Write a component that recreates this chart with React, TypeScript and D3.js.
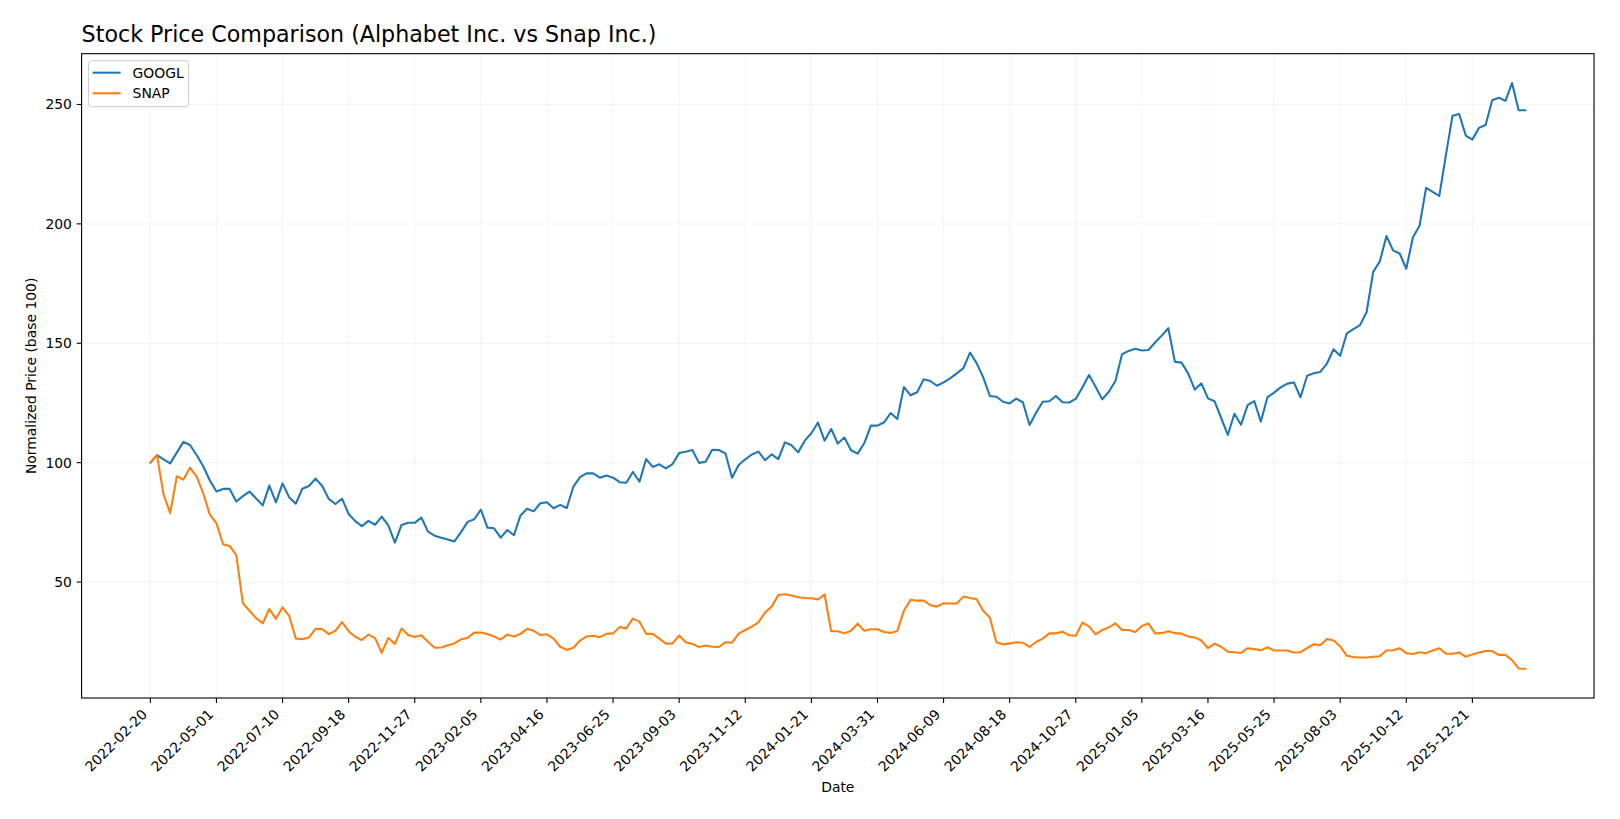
import * as d3 from 'd3';

const START_DATE = '2022-02-20';

// weekly closes, normalized to 100 at the first week
const GOOGL = [
  100, 103.1, 101.4, 99.7, 104.2, 108.7, 107.4, 103.2, 98.5, 92.5,
  87.9, 89, 89, 83.7, 86, 87.9, 85, 82.1, 90.4, 83.4,
  91.3, 85.5, 82.8, 89.1, 90.2, 93.3, 90.2, 84.8, 82.7, 84.9,
  78.5, 75.5, 73.4, 75.6, 74, 77.4, 73.7, 66.5, 73.9, 74.8,
  74.8, 77, 71.1, 69.4, 68.5, 67.8, 67, 70.9, 75.2, 76.3,
  80.3, 72.8, 72.5, 68.6, 71.8, 69.6, 77.9, 80.7, 79.6, 83,
  83.4, 80.9, 82.3, 81, 90, 93.9, 95.5, 95.5, 93.7, 94.6,
  93.7, 91.8, 91.6, 96.1, 92, 101.5, 98.2, 99.3, 97.6, 99.4,
  104, 104.6, 105.3, 99.9, 100.4, 105.4, 105.3, 103.9, 93.7, 99,
  101.4, 103.4, 104.6, 101, 103.5, 101.5, 108.5, 107.3, 104.3, 109.2,
  112.3, 116.8, 109.2, 114.1, 108, 110.5, 105.2, 103.8, 108.1, 115.5,
  115.5, 116.9, 120.8, 118.3, 131.7, 128.2, 129.5, 134.9, 134.2, 132.2,
  133.6, 135.3, 137.4, 139.6, 146.1, 141.7, 135.7, 127.9, 127.6, 125.5,
  124.8, 126.8, 125.3, 115.8, 120.9, 125.5, 125.7, 127.9, 125.3, 125.2,
  126.7, 131.5, 136.7, 131.8, 126.5, 129.7, 134.2, 145.4, 146.8, 147.7,
  147, 147.2, 150.3, 153.2, 156.3, 142.2, 141.9, 137.4, 130.6, 133.2,
  126.9, 125.7, 118.7, 111.6, 120.5, 115.9, 124.1, 125.8, 117.2, 127.4,
  129.3, 131.5, 133.1, 133.6, 127.4, 136.4, 137.4, 138, 141.5, 147.5,
  144.8, 154.1, 155.9, 157.6, 163.1, 179.9, 184.3, 194.9, 188.9, 187.6,
  181.2, 194.3, 199.2, 215.1, 213.4, 211.7, 228.9, 245.3, 246, 237,
  235.3, 240.2, 241.4, 251.8, 252.8, 251.5, 259, 247.6, 247.6,
];

const SNAP = [
  100, 103.1, 86.7, 78.8, 94.3, 92.9, 97.9, 94.1, 87.2, 78.2,
  74.6, 65.8, 65.1, 61.3, 41.1, 38, 34.9, 32.7, 38.7, 34.6,
  39.4, 35.8, 26.4, 26, 26.8, 30.4, 30.3, 28.2, 29.6, 33.2,
  29.4, 27.1, 25.7, 28, 26.5, 20.4, 26.6, 24.1, 30.6, 27.8,
  27, 27.7, 25, 22.5, 22.6, 23.5, 24.3, 26, 26.6, 28.8,
  28.9, 28.2, 27.2, 25.9, 28, 27.2, 28.3, 30.4, 29.6, 27.8,
  28.1, 26.3, 22.9, 21.6, 22.5, 25.5, 27.2, 27.5, 26.9, 28.3,
  28.5, 31.2, 30.6, 34.7, 33.4, 28.3, 28.3, 26.3, 24.2, 24.3,
  27.6, 24.8, 24.1, 22.8, 23.4, 22.9, 22.8, 24.8, 24.6, 28.4,
  29.9, 31.3, 33.1, 37.3, 39.7, 44.6, 44.9, 44.4, 43.6, 43.3,
  43.2, 42.7, 44.8, 29.4, 29.4, 28.5, 29.6, 32.6, 29.6, 30.2,
  30.2, 29.1, 28.7, 29.5, 38, 42.6, 42.2, 42.2, 40.3, 39.7,
  41.1, 41, 41, 43.9, 43.3, 42.8, 38, 35.1, 24.8, 23.9,
  24.3, 24.8, 24.6, 22.8, 24.9, 26.3, 28.5, 28.5, 29.2, 27.7,
  27.5, 33, 31.4, 28.1, 29.9, 31, 32.7, 29.9, 29.9, 29.1,
  31.6, 32.7, 28.5, 28.6, 29.4, 28.6, 28.4, 27.2, 26.8, 25.5,
  22.3, 24.2, 22.9, 20.8, 20.6, 20.3, 22.3, 21.9, 21.4, 22.7,
  21.3, 21.3, 21.3, 20.5, 20.6, 22.3, 24, 23.5, 26.1, 25.5,
  23.1, 19.1, 18.6, 18.4, 18.4, 18.7, 18.9, 21.3, 21.4, 22.3,
  20.2, 19.9, 20.6, 20.2, 21.3, 22.3, 20, 20, 20.5, 18.7,
  19.7, 20.5, 21.1, 21.1, 19.5, 19.5, 17.3, 13.8, 13.7,
];

const X_TICK_LABELS = [
  '2022-02-20', '2022-05-01', '2022-07-10', '2022-09-18', '2022-11-27',
  '2023-02-05', '2023-04-16', '2023-06-25', '2023-09-03', '2023-11-12',
  '2024-01-21', '2024-03-31', '2024-06-09', '2024-08-18', '2024-10-27',
  '2025-01-05', '2025-03-16', '2025-05-25', '2025-08-03', '2025-10-12',
  '2025-12-21',
];

const Y_TICKS = [50, 100, 150, 200, 250];

const SERIES = [
  { name: 'GOOGL', values: GOOGL, color: '#1f77b4' },
  { name: 'SNAP', values: SNAP, color: '#ff7f0e' },
];

const W = 1620;
const H = 819;
const FONT = '"DejaVu Sans", sans-serif';

export default function App() {
  const margin = { top: 53.7, right: 26, bottom: 121, left: 81.6 };
  const innerW = W - margin.left - margin.right;
  const innerH = H - margin.top - margin.bottom;

  const parse = d3.utcParse('%Y-%m-%d');
  const start = parse(START_DATE) as Date;
  const dates = GOOGL.map((_, i) => d3.utcDay.offset(start, i * 7));

  // matplotlib-style 5% margins around the data
  const t0 = +dates[0];
  const t1 = +dates[dates.length - 1];
  const tPad = (t1 - t0) * 0.05;
  const x = d3.scaleUtc()
    .domain([new Date(t0 - tPad), new Date(t1 + tPad)])
    .range([0, innerW]);

  const all = [...GOOGL, ...SNAP];
  const vMin = d3.min(all) as number;
  const vMax = d3.max(all) as number;
  const vPad = (vMax - vMin) * 0.05;
  const y = d3.scaleLinear()
    .domain([vMin - vPad, vMax + vPad])
    .range([innerH, 0]);

  const line = d3.line<number>()
    .x((_, i) => x(dates[i]))
    .y(d => y(d));

  const xTicks = X_TICK_LABELS.map(s => ({ label: s, pos: x(parse(s) as Date) }));

  return (
    <svg width={W} height={H} style={{ position: 'absolute', left: 0, top: 0, background: '#fff' }}>
      <rect x={0} y={0} width={W} height={H} fill="#fff" />
      <text x={margin.left} y={42} fontSize={22.2} fontFamily={FONT} fill="#000">
        Stock Price Comparison (Alphabet Inc. vs Snap Inc.)
      </text>

      <g transform={`translate(${margin.left},${margin.top})`}>
        {/* grid */}
        {xTicks.map(t => (
          <line key={t.label} x1={t.pos} x2={t.pos} y1={0} y2={innerH} stroke="#b0b0b0" strokeOpacity={0.18} strokeWidth={0.8} />
        ))}
        {Y_TICKS.map(v => (
          <line key={v} x1={0} x2={innerW} y1={y(v)} y2={y(v)} stroke="#b0b0b0" strokeOpacity={0.18} strokeWidth={0.8} />
        ))}

        {SERIES.map(s => (
          <path key={s.name} d={line(s.values) ?? ''} fill="none" stroke={s.color} strokeWidth={2.08} strokeLinejoin="round" strokeLinecap="square" />
        ))}

        {/* axes frame */}
        <rect x={0} y={0} width={innerW} height={innerH} fill="none" stroke="#000" strokeWidth={1.1} />

        {/* y ticks */}
        {Y_TICKS.map(v => (
          <g key={v}>
            <line x1={-4.9} x2={0} y1={y(v)} y2={y(v)} stroke="#000" strokeWidth={1.1} />
            <text x={-9.7} y={y(v)} textAnchor="end" dominantBaseline="central" fontSize={13.9} fontFamily={FONT} fill="#000">
              {v}
            </text>
          </g>
        ))}

        {/* x ticks */}
        {xTicks.map(t => (
          <g key={t.label}>
            <line x1={t.pos} x2={t.pos} y1={innerH} y2={innerH + 4.9} stroke="#000" strokeWidth={1.1} />
            <text
              transform={`translate(${t.pos - 2.3},${innerH + 17.3}) rotate(-45)`}
              textAnchor="end"
              fontSize={13.9}
              fontFamily={FONT}
              fill="#000"
            >
              {t.label}
            </text>
          </g>
        ))}

        <text x={innerW / 2} y={innerH + 94} textAnchor="middle" fontSize={13.9} fontFamily={FONT} fill="#000">Date</text>
        <text transform={`translate(${36 - margin.left},${innerH / 2}) rotate(-90)`} textAnchor="middle" fontSize={13.9} fontFamily={FONT} fill="#000">
          Normalized Price (base 100)
        </text>

        {/* legend */}
        <g transform="translate(7,7)">
          <rect x={0} y={0} width={100} height={46} rx={3} fill="#fff" fillOpacity={0.8} stroke="#cccccc" strokeWidth={1} />
          {SERIES.map((s, i) => (
            <g key={s.name} transform={`translate(0,${12 + i * 20.6})`}>
              <line x1={4} x2={32} y1={0} y2={0} stroke={s.color} strokeWidth={2.08} />
              <text x={44} y={0} dominantBaseline="central" fontSize={13.9} fontFamily={FONT} fill="#000">{s.name}</text>
            </g>
          ))}
        </g>
      </g>
    </svg>
  );
}
